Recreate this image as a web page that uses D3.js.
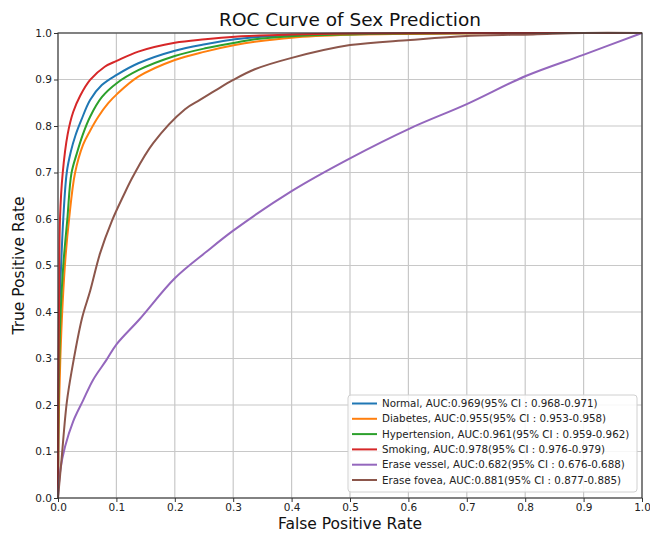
<!DOCTYPE html>
<html>
<head>
<meta charset="utf-8">
<script src="https://cdn.jsdelivr.net/npm/d3@7"></script>
<style>
  html, body { margin: 0; padding: 0; background: #fff; }
  svg { display: block; font-family: "DejaVu Sans", sans-serif; }
</style>
</head>
<body>
<svg id="chart" width="650" height="533"></svg>
<script>
// ---- data ----
const seriesNames = ["Normal", "Diabetes", "Hypertension", "Smoking", "Erase vessel", "Erase fovea"];
const seriesLabels = [
  "Normal, AUC:0.969(95% CI : 0.968-0.971)",
  "Diabetes, AUC:0.955(95% CI : 0.953-0.958)",
  "Hypertension, AUC:0.961(95% CI : 0.959-0.962)",
  "Smoking, AUC:0.978(95% CI : 0.976-0.979)",
  "Erase vessel, AUC:0.682(95% CI : 0.676-0.688)",
  "Erase fovea, AUC:0.881(95% CI : 0.877-0.885)"
];
const seriesColors = ["#1f77b4", "#ff7f0e", "#2ca02c", "#d62728", "#9467bd", "#8c564b"];

const normalFpr = [0, 0.001, 0.003, 0.006, 0.009, 0.015, 0.022, 0.03, 0.04, 0.055, 0.075, 0.1005, 0.1375, 0.2, 0.252, 0.303, 0.337, 0.4, 0.5, 0.6, 0.8, 1.0];
const normalTpr = [0, 0.25, 0.42, 0.52, 0.6, 0.7, 0.745, 0.78, 0.813, 0.856, 0.888, 0.91, 0.935, 0.962, 0.976, 0.9865, 0.991, 0.995, 0.998, 0.999, 1, 1];

const diabetesFpr = [0, 0.001, 0.004, 0.008, 0.013, 0.019, 0.029, 0.043, 0.055, 0.069, 0.086, 0.1005, 0.1375, 0.2, 0.252, 0.303, 0.337, 0.4, 0.5, 0.6, 0.8, 1.0];
const diabetesTpr = [0, 0.15, 0.3, 0.42, 0.52, 0.6, 0.698, 0.76, 0.79, 0.82, 0.849, 0.868, 0.906, 0.942, 0.960, 0.974, 0.981, 0.99, 0.996, 0.998, 1, 1];

const hyperFpr = [0, 0.001, 0.004, 0.009, 0.016, 0.023, 0.032, 0.042, 0.055, 0.075, 0.1005, 0.1375, 0.2, 0.252, 0.303, 0.337, 0.4, 0.5, 0.6, 0.8, 1.0];
const hyperTpr = [0, 0.2, 0.38, 0.5, 0.6, 0.698, 0.74, 0.78, 0.82, 0.862, 0.892, 0.92, 0.9505, 0.967, 0.979, 0.9865, 0.993, 0.997, 0.999, 1, 1];

const smokingFpr = [0, 0.0005, 0.002, 0.0034, 0.008, 0.0165, 0.026, 0.038, 0.055, 0.08, 0.1005, 0.1375, 0.2, 0.252, 0.303, 0.337, 0.4, 0.5, 0.7, 1.0];
const smokingTpr = [0, 0.2, 0.45, 0.6, 0.698, 0.782, 0.83, 0.865, 0.899, 0.9275, 0.94, 0.96, 0.979, 0.9865, 0.992, 0.994, 0.997, 0.999, 1, 1];

const vesselFpr = [0, 0.004, 0.012, 0.026, 0.043, 0.06, 0.083, 0.1005, 0.14, 0.2, 0.2546, 0.3, 0.4, 0.5, 0.603, 0.7, 0.802, 0.8995, 1.0];
const vesselTpr = [0, 0.06, 0.11, 0.165, 0.21, 0.254, 0.297, 0.331, 0.385, 0.4725, 0.53, 0.575, 0.66, 0.7305, 0.795, 0.847, 0.908, 0.953, 1.0];

const foveaFpr = [0, 0.006, 0.015, 0.023, 0.041, 0.055, 0.072, 0.092, 0.112, 0.129, 0.163, 0.2175, 0.243, 0.269, 0.3, 0.337, 0.397, 0.5, 0.603, 0.7, 0.814, 0.9, 1.0];
const foveaTpr = [0, 0.082, 0.205, 0.27, 0.386, 0.445, 0.526, 0.595, 0.65, 0.693, 0.763, 0.836, 0.856, 0.876, 0.899, 0.922, 0.9455, 0.974, 0.985, 0.9935, 0.997, 1.0, 1.0];

const xTicks = [0, 0.1, 0.2, 0.3, 0.4, 0.5, 0.6, 0.7, 0.8, 0.9, 1.0];
const yTicks = [0, 0.1, 0.2, 0.3, 0.4, 0.5, 0.6, 0.7, 0.8, 0.9, 1.0];

const titleText = "ROC Curve of Sex Prediction";
const xLabelText = "False Positive Rate";
const yLabelText = "True Positive Rate";

// ---- build ----
const fprs = [normalFpr, diabetesFpr, hyperFpr, smokingFpr, vesselFpr, foveaFpr];
const tprs = [normalTpr, diabetesTpr, hyperTpr, smokingTpr, vesselTpr, foveaTpr];
const series = seriesNames.map((n, i) => ({
  name: n, label: seriesLabels[i], color: seriesColors[i],
  points: fprs[i].map((f, j) => [f, tprs[i][j]])
}));

const svg = d3.select("#chart");
const m = { left: 58, right: 8, top: 33, bottom: 35 };
const W = 650, H = 533;
const x = d3.scaleLinear().domain([0, 1]).range([m.left, W - m.right]);
const y = d3.scaleLinear().domain([0, 1]).range([H - m.bottom, m.top]);

// grid
const grid = svg.append("g");
grid.selectAll("line.vx").data(xTicks).enter().append("line")
  .attr("x1", d => x(d)).attr("x2", d => x(d))
  .attr("y1", y(0)).attr("y2", y(1))
  .attr("stroke", "#c8c8c8").attr("stroke-width", 1.2);
grid.selectAll("line.hy").data(yTicks).enter().append("line")
  .attr("x1", x(0)).attr("x2", x(1))
  .attr("y1", d => y(d)).attr("y2", d => y(d))
  .attr("stroke", "#c8c8c8").attr("stroke-width", 1.2);

// curves
const line = d3.line().x(d => x(d[0])).y(d => y(d[1])).curve(d3.curveCatmullRom.alpha(0.5));
svg.append("clipPath").attr("id", "clip").append("rect")
  .attr("x", x(0) - 2).attr("y", y(1) - 2).attr("width", x(1) - x(0) + 4).attr("height", y(0) - y(1) + 4);
svg.append("g").attr("clip-path", "url(#clip)")
  .selectAll("path").data(series).enter().append("path")
  .attr("d", d => line(d.points))
  .attr("fill", "none")
  .attr("stroke", d => d.color)
  .attr("stroke-width", 2)
  .attr("stroke-linejoin", "round");

// frame
svg.append("rect")
  .attr("x", x(0)).attr("y", y(1))
  .attr("width", x(1) - x(0)).attr("height", y(0) - y(1))
  .attr("fill", "none").attr("stroke", "#333").attr("stroke-width", 1.1);

// axes
const xAxis = svg.append("g").attr("transform", `translate(0,${y(0)})`)
  .call(d3.axisBottom(x).tickValues(xTicks).tickFormat(d3.format(".1f")).tickSize(4).tickSizeOuter(0).tickPadding(2));
const yAxis = svg.append("g").attr("transform", `translate(${x(0)},0)`)
  .call(d3.axisLeft(y).tickValues(yTicks).tickFormat(d3.format(".1f")).tickSize(4).tickSizeOuter(0).tickPadding(2));
[xAxis, yAxis].forEach(a => {
  a.select(".domain").remove();
  a.selectAll("text").attr("font-size", 10.5).attr("fill", "#222").attr("font-family", "DejaVu Sans");
  a.selectAll("line").attr("stroke", "#333");
});

// title and labels
svg.append("text").attr("x", (x(0) + x(1)) / 2).attr("y", 26)
  .attr("text-anchor", "middle").attr("font-size", 18.5).attr("fill", "#111").text(titleText);
svg.append("text").attr("x", (x(0) + x(1)) / 2).attr("y", 529)
  .attr("text-anchor", "middle").attr("font-size", 15.5).attr("fill", "#111").text(xLabelText);
svg.append("text").attr("transform", `translate(24,${(y(0) + y(1)) / 2}) rotate(-90)`)
  .attr("text-anchor", "middle").attr("font-size", 15.5).attr("fill", "#111").text(yLabelText);

// legend
const lg = svg.append("g");
lg.append("rect").attr("x", 348).attr("y", 395).attr("width", 289).attr("height", 97)
  .attr("rx", 3).attr("fill", "#fff").attr("fill-opacity", 0.85)
  .attr("stroke", "#d0d0d0").attr("stroke-width", 1);
const rows = lg.selectAll("g.row").data(series).enter().append("g")
  .attr("transform", (d, i) => `translate(0,${403.5 + i * 15.3})`);
rows.append("line").attr("x1", 352).attr("x2", 377).attr("y1", 0).attr("y2", 0)
  .attr("stroke", d => d.color).attr("stroke-width", 2);
rows.append("text").attr("x", 382).attr("y", 0).attr("dy", "0.35em")
  .attr("font-size", 10.3).attr("fill", "#222").text(d => d.label);
</script>
</body>
</html>
